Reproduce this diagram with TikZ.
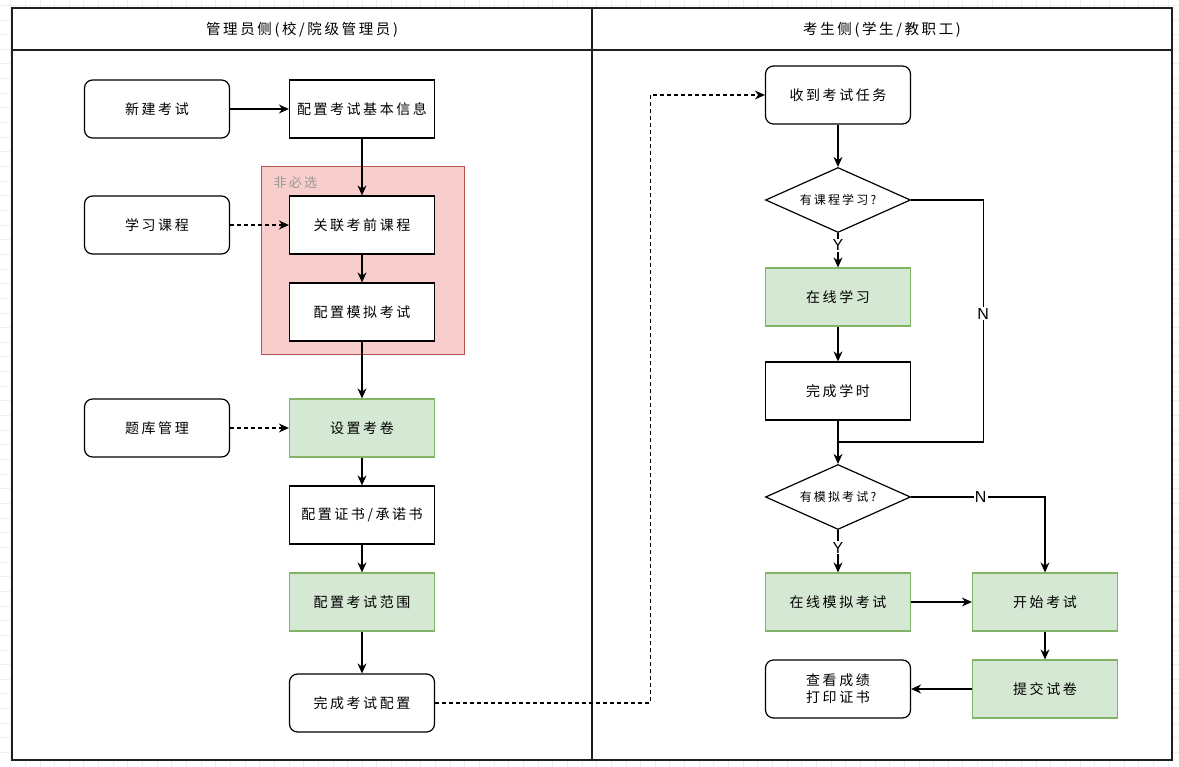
\documentclass[tikz,border=0pt]{standalone}
\usepackage{fontspec}
\usepackage{xcolor}
\usetikzlibrary{arrows.meta,positioning,shapes.geometric}
\setmainfont{Noto Sans CJK SC}[LetterSpace=18]
\newfontfamily\latinfont{Liberation Sans}
\definecolor{softgreen}{HTML}{D5E8D4}
\definecolor{greenline}{HTML}{82B366}
\definecolor{softred}{HTML}{F8CECC}
\definecolor{redline}{HTML}{B85450}
\definecolor{gridgray}{HTML}{EFEFEF}
\definecolor{poolline}{HTML}{1F1F1F}

\begin{document}
\begin{tikzpicture}[x=1pt, y=-1pt, >={Stealth[length=10pt,width=9pt]},
  font=\fontsize{14}{17}\selectfont,
  box/.style={draw, line width=1.2pt, fill=white, minimum width=145pt, minimum height=58pt, inner sep=0pt, align=center},
  roundbox/.style={box, rounded corners=8pt},
  greenbox/.style={box, fill=softgreen, draw=greenline},
  decision/.style={diamond, aspect=2.3, draw, line width=1.2pt, fill=white, minimum width=145pt, minimum height=65pt, inner sep=0pt, font=\fontsize{12}{14}\selectfont},
  flow/.style={->, line width=1.2pt},
  optflow/.style={->, line width=1.2pt, dash pattern=on 4pt off 3pt},
  yn/.style={fill=white, inner sep=1pt, font=\latinfont\fontsize{16}{18}\selectfont}]
  \useasboundingbox (0,0) rectangle (1179,767);
  % background grid
  \draw[gridgray, line width=0.8pt, step=14.65pt, shift={(10.6,5.3)}] (-20,-20) grid (1200,790);

  % swimlanes
  \draw[poolline, line width=1.6pt, fill=white] (12,8) rectangle (1172,760);
  \draw[poolline, line width=1.6pt] (12,50) -- (1172,50);
  \draw[poolline, line width=1.6pt] (592,8) -- (592,760);
  \node[font=\fontsize{14.5}{17}\selectfont] (adminhead) at (302,30) {管理员侧(校/院级管理员)};
  \node[font=\fontsize{14.5}{17}\selectfont] (userhead) at (882,30) {考生侧(学生/教职工)};

  % admin side
  \node[draw=redline, line width=1pt, fill=softred, minimum width=203pt, minimum height=188pt, inner sep=0pt] (optional) at (362.5,261) {};
  \node[text=black!40, anchor=west, font=\fontsize{13}{15}\selectfont] (optlabel) at (270,183) {非必选};

  \node[roundbox] (newexam) at (157,109) {新建考试};
  \node[box] (basicinfo) at (362,109) {配置考试基本信息};
  \node[roundbox] (study) at (157,225) {学习课程};
  \node[box] (course) at (362,225) {关联考前课程};
  \node[box] (mockcfg) at (362,312) {配置模拟考试};
  \node[roundbox] (bank) at (157,428) {题库管理};
  \node[greenbox] (paper) at (362,428) {设置考卷};
  \node[box] (cert) at (362,515) {配置证书/承诺书};
  \node[greenbox] (range) at (362,602) {配置考试范围};
  \node[roundbox] (done) at (362,703) {完成考试配置};

  \draw[flow] (newexam) -- (basicinfo);
  \draw[flow] (basicinfo) -- (course);
  \draw[optflow] (study) -- (course);
  \draw[flow] (course) -- (mockcfg);
  \draw[flow] (mockcfg) -- (paper);
  \draw[optflow] (bank) -- (paper);
  \draw[flow] (paper) -- (cert);
  \draw[flow] (cert) -- (range);
  \draw[flow] (range) -- (done);

  % candidate side
  \node[roundbox] (receive) at (838,95) {收到考试任务};
  \node[decision] (hascourse) at (838,200) {有课程学习?};
  \node[greenbox] (learn) at (838,297) {在线学习};
  \node[box] (hours) at (838,391) {完成学时};
  \coordinate (join) at (838,442);
  \node[decision] (hasmock) at (838,497) {有模拟考试?};
  \node[greenbox] (mocktest) at (838,602) {在线模拟考试};
  \node[greenbox] (start) at (1045,602) {开始考试};
  \node[greenbox] (submit) at (1045,689) {提交试卷};
  \node[roundbox] (result) at (838,689) {查看成绩\\打印证书};

  \draw[optflow] (done.east) -- ++(215,0) |- (receive.west);
  \draw[flow] (receive) -- (hascourse);
  \draw[flow] (hascourse) -- node[yn, pos=0.36] {Y} (learn);
  \draw[line width=1.2pt] (hascourse.east) -- ++(72,0) coordinate (nturn)
    -- node[yn, pos=0.47] {N} (nturn |- join) -- (join);
  \draw[flow] (learn) -- (hours);
  \draw[flow] (hours) -- (hasmock);
  \draw[flow] (hasmock) -- node[yn, pos=0.42] {Y} (mocktest);
  \draw[flow] (hasmock.east) -| node[yn, pos=0.26] {N} (start.north);
  \draw[flow] (mocktest) -- (start);
  \draw[flow] (start) -- (submit);
  \draw[flow] (submit) -- (result);
\end{tikzpicture}
\end{document}
